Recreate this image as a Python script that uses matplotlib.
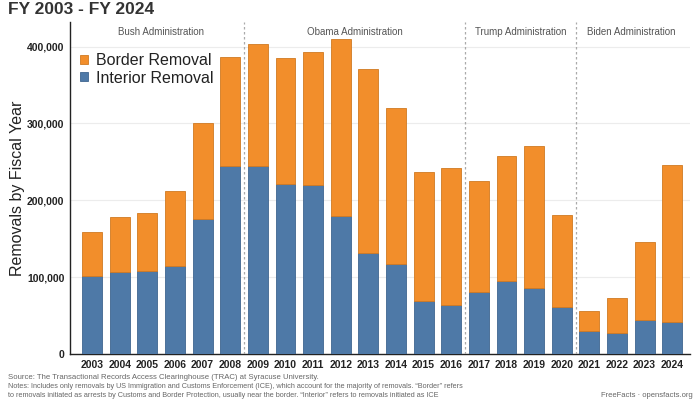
import matplotlib
matplotlib.use("Agg")
import matplotlib.pyplot as plt
import numpy as np

years = ["2003", "2004", "2005", "2006", "2007", "2008", "2009", "2010", "2011", "2012", "2013",
         "2014", "2015", "2016", "2017", "2018", "2019", "2020", "2021", "2022", "2023", "2024"]
total = [159000, 177700, 183600, 212600, 301000, 387000, 403600, 385000, 392800, 409800, 370700,
         320700, 237400, 242600, 225300, 257800, 270800, 181000, 56400, 73300, 146200, 246000]
interior = [101600, 107000, 108000, 114600, 175800, 244000, 244000, 221700, 220000, 179000, 132000,
            116800, 69400, 63800, 80300, 95000, 85500, 61600, 30000, 27000, 44300, 41300]
border = [t - i for t, i in zip(total, interior)]

admins = ["Bush Administration", "Obama Administration", "Trump Administration", "Biden Administration"]
admin_ranges = [(0, 5), (6, 13), (14, 17), (18, 21)]
yticks = [0, 100000, 200000, 300000, 400000]

plt.rcParams['font.family'] = ['Liberation Sans', 'DejaVu Sans']

BLUE = "#4e79a7"
ORANGE = "#f28e2b"

fig = plt.figure(figsize=(7, 4), dpi=100)
ax = fig.add_axes([0.1, 0.115, 0.886, 0.83])

x = np.arange(len(years))
ax.bar(x, interior, width=0.72, color=BLUE, edgecolor="#3f6590", linewidth=0.6, label="Interior Removal", zorder=3)
ax.bar(x, border, bottom=interior, width=0.72, color=ORANGE, edgecolor="#d07a22", linewidth=0.6,
       label="Border Removal", zorder=3)

ax.set_xlim(-0.8, len(years) - 0.35)
ax.set_ylim(0, 432000)
ax.set_xticks(x)
ax.set_xticklabels(years, fontsize=7.5, fontweight="bold", color="#222222")
ax.set_yticks(yticks)
ax.set_yticklabels([f"{v:,}" for v in yticks], fontsize=7.5, fontweight="bold", color="#222222")
ax.tick_params(axis="both", length=0, pad=4)
ax.grid(axis="y", color="#ececec", linewidth=0.8, zorder=0)
for s in ["top", "right"]:
    ax.spines[s].set_visible(False)
ax.spines["left"].set_color("#222222")
ax.spines["bottom"].set_color("#222222")
ax.spines["left"].set_linewidth(1.0)
ax.spines["bottom"].set_linewidth(1.0)

ax.set_ylabel("Removals by Fiscal Year", fontsize=11.5, color="#222222", labelpad=6)
ax.yaxis.set_label_coords(-0.073, 0.5)

# administration separators and labels
for (a, b) in admin_ranges[:-1]:
    ax.axvline(b + 0.5, color="#aaaaaa", linestyle=(0, (2, 2)), linewidth=0.9, zorder=4)
for name, (a, b) in zip(admins, admin_ranges):
    ax.text((a + b) / 2, 0.985, name, transform=ax.get_xaxis_transform(), ha="center", va="top",
            fontsize=7, color="#555555")

handles, labels = ax.get_legend_handles_labels()
leg = ax.legend(handles[::-1], labels[::-1], loc="upper left", bbox_to_anchor=(0.0, 0.935), frameon=False,
                fontsize=11.5, handlelength=0.5, handleheight=0.5, handletextpad=0.5,
                labelspacing=0.15, borderaxespad=0.2)
for t in leg.get_texts():
    t.set_color("#222222")

fig.text(0.011, 0.976, "FY 2003 - FY 2024", fontsize=12.5, fontweight="bold", color="#333333", ha="left", va="center")

fig.text(0.011, 0.057, "Source: The Transactional Records Access Clearinghouse (TRAC) at Syracuse University.",
         fontsize=5.6, color="#666666", ha="left", va="center")
fig.text(0.011, 0.034, "Notes: Includes only removals by US Immigration and Customs Enforcement (ICE), which account for the majority of removals. \u201cBorder\u201d refers",
         fontsize=5.2, color="#666666", ha="left", va="center")
fig.text(0.011, 0.012, "to removals initiated as arrests by Customs and Border Protection, usually near the border. \u201cInterior\u201d refers to removals initiated as ICE",
         fontsize=5.2, color="#666666", ha="left", va="center")
fig.text(0.99, 0.012, "FreeFacts \u00b7 opensfacts.org", fontsize=5.5, color="#666666", ha="right", va="center")

fig.savefig("out.png", dpi=100)
